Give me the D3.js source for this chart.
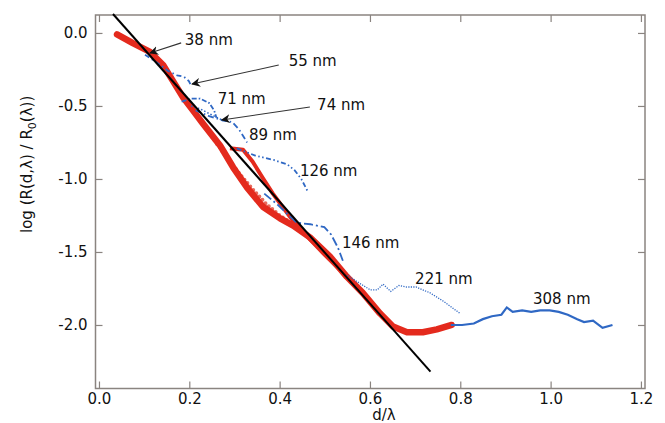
<!DOCTYPE html>
<html>
<head>
<meta charset="utf-8">
<script src="https://cdn.jsdelivr.net/npm/d3@7"></script>
<style>
  body { margin: 0; background: #fff; }
  text { font-family: "DejaVu Sans", sans-serif; fill: #111; }
</style>
</head>
<body>
<div id="chart"></div>
<script>
//----------------------------DATA-------------------------------//
const xTicks = [0.0, 0.2, 0.4, 0.6, 0.8, 1.0, 1.2];
const yTicks = [0.0, -0.5, -1.0, -1.5, -2.0];

// fitted straight line (two end points)
const fitLine = [[0.031, 0.13], [0.734, -2.32]];

// red thick band (thin films)
const redMain = [[0.04,-0.01],[0.075,-0.07],[0.113,-0.13],[0.142,-0.22],[0.164,-0.33],[0.186,-0.44],
  [0.208,-0.53],[0.23,-0.62],[0.268,-0.77],[0.297,-0.92],[0.328,-1.06],[0.363,-1.19],[0.401,-1.27],
  [0.43,-1.32],[0.467,-1.4],[0.511,-1.53],[0.549,-1.67],[0.584,-1.78],[0.622,-1.92],[0.651,-2.01],
  [0.682,-2.05],[0.717,-2.05],[0.748,-2.03],[0.781,-2.0]];
const redShoulder = [[0.29,-0.79],[0.319,-0.80],[0.34,-0.88],[0.362,-0.99],[0.385,-1.10],
  [0.423,-1.26],[0.46,-1.39],[0.5,-1.52],[0.549,-1.67]];
const redDots = [[0.25,-0.71],[0.28,-0.84],[0.31,-0.96],[0.34,-1.07],[0.37,-1.17],[0.40,-1.25],
  [0.43,-1.31],[0.46,-1.38],[0.49,-1.46],[0.52,-1.56],[0.549,-1.66]];

// blue curves (thicker films)
const blue55 = [[0.102,-0.15],[0.132,-0.21],[0.153,-0.26],[0.173,-0.29],[0.188,-0.30],[0.199,-0.33],[0.204,-0.36]];
const blue71 = [[0.183,-0.47],[0.204,-0.45],[0.224,-0.45],[0.244,-0.48],[0.255,-0.53],[0.26,-0.58]];
const blue74 = [[0.204,-0.5],[0.224,-0.52],[0.249,-0.56],[0.275,-0.6]];
const blue89 = [[0.214,-0.53],[0.244,-0.57],[0.275,-0.6],[0.295,-0.61],[0.31,-0.66],[0.328,-0.75]];
const blue126 = [[0.305,-0.79],[0.346,-0.84],[0.387,-0.87],[0.417,-0.9],[0.433,-0.94],[0.448,-1.0],[0.463,-1.09]];
const blue146 = [[0.366,-1.1],[0.397,-1.18],[0.417,-1.24],[0.438,-1.3],[0.468,-1.31],[0.499,-1.33],
  [0.514,-1.38],[0.529,-1.47],[0.54,-1.56]];
const blue221 = [[0.55,-1.66],[0.58,-1.72],[0.601,-1.76],[0.616,-1.76],[0.629,-1.72],[0.646,-1.77],
  [0.664,-1.73],[0.682,-1.74],[0.702,-1.74],[0.733,-1.78],[0.764,-1.84],[0.799,-1.92]];
const blue308 = [[0.779,-2.0],[0.804,-2.0],[0.83,-1.99],[0.85,-1.96],[0.87,-1.94],[0.891,-1.93],
  [0.903,-1.88],[0.916,-1.91],[0.937,-1.9],[0.957,-1.91],[0.977,-1.9],[0.998,-1.9],[1.018,-1.91],
  [1.038,-1.93],[1.059,-1.96],[1.074,-1.98],[1.094,-1.97],[1.115,-2.02],[1.137,-2.0]];

// thickness labels: text, anchor (data coords), optional arrow [from, to]
const labels = [
  { t: "38 nm",  x: 0.19,  y: -0.048, arrow: [[0.182,-0.068],[0.113,-0.137]] },
  { t: "55 nm",  x: 0.42,  y: -0.19,  arrow: [[0.398,-0.22],[0.206,-0.35]] },
  { t: "71 nm",  x: 0.263, y: -0.45 },
  { t: "74 nm",  x: 0.483, y: -0.49,  arrow: [[0.467,-0.507],[0.272,-0.596]] },
  { t: "89 nm",  x: 0.332, y: -0.70 },
  { t: "126 nm", x: 0.445, y: -0.945 },
  { t: "146 nm", x: 0.538, y: -1.438 },
  { t: "221 nm", x: 0.70,  y: -1.685 },
  { t: "308 nm", x: 0.961, y: -1.822 }
];

//-----------------------------SVG-------------------------------//
const W = 665, H = 423;
const margin = { top: 15, right: 20, bottom: 34.5, left: 95.5 };
const width = W - margin.left - margin.right;
const height = H - margin.top - margin.bottom;

const svg = d3.select("#chart").append("svg")
  .attr("width", W).attr("height", H);
const g = svg.append("g")
  .attr("transform", `translate(${margin.left},${margin.top})`);

//----------------------------SCALES-----------------------------//
const x = d3.scaleLinear().domain([-0.0077, 1.209]).range([0, width]);
const y = d3.scaleLinear().domain([0.123, -2.435]).range([0, height]);

//-----------------------------AXES------------------------------//
const axisColor = "#8a8480";
function styleAxis(sel, hideText) {
  sel.select(".domain").remove();
  sel.selectAll(".tick line").attr("stroke", axisColor).attr("stroke-width", 1.2);
  sel.selectAll(".tick text").style("font-size", "15px").attr("fill", "#111");
  if (hideText) sel.selectAll(".tick text").remove();
}
g.append("g").attr("transform", `translate(0,${height})`)
  .call(d3.axisBottom(x).tickValues(xTicks).tickFormat(d3.format(".1f")).tickSize(-7).tickPadding(5))
  .call(s => styleAxis(s, false));
g.append("g")
  .call(d3.axisTop(x).tickValues(xTicks).tickSize(-7))
  .call(s => styleAxis(s, true));
g.append("g")
  .call(d3.axisLeft(y).tickValues(yTicks).tickFormat(d3.format(".1f")).tickSize(-7).tickPadding(8))
  .call(s => styleAxis(s, false));
g.append("g").attr("transform", `translate(${width},0)`)
  .call(d3.axisRight(y).tickValues(yTicks).tickSize(-7))
  .call(s => styleAxis(s, true));

g.append("rect")
  .attr("width", width).attr("height", height)
  .attr("fill", "none").attr("stroke", axisColor).attr("stroke-width", 1.5);

// minus sign as hyphen like the original
g.selectAll(".tick text").text(function () { return d3.select(this).text().replace("−", "-"); });

svg.append("text")
  .attr("x", margin.left + x(0.6) + 14).attr("y", 420)
  .attr("text-anchor", "middle").style("font-size", "15px")
  .text("d/λ");

const yl = svg.append("text")
  .attr("transform", `translate(32,${margin.top + y(-0.9)}) rotate(-90)`)
  .attr("text-anchor", "middle").style("font-size", "15px");
yl.append("tspan").text("log (R(d,λ) / R");
yl.append("tspan").attr("dy", 4).style("font-size", "11px").text("0");
yl.append("tspan").attr("dy", -4).text("(λ))");

//----------------------------LINES------------------------------//
const line = d3.line().x(d => x(d[0])).y(d => y(d[1]));
const plot = g.append("g");
const red = "#e42a1d", blue = "#2f68c4";

plot.append("path").attr("d", line(redDots))
  .attr("fill", "none").attr("stroke", "#e86a5c").attr("stroke-width", 4)
  .attr("stroke-linecap", "round").attr("stroke-dasharray", "0 4.5");
plot.append("path").attr("d", line(redShoulder))
  .attr("fill", "none").attr("stroke", red).attr("stroke-width", 4)
  .attr("stroke-linejoin", "round");
plot.append("path").attr("d", line(redMain))
  .attr("fill", "none").attr("stroke", red).attr("stroke-width", 6.5)
  .attr("stroke-linecap", "round").attr("stroke-linejoin", "round");

const blues = [
  { d: blue55,  dash: "5 3 1.5 3", w: 1.8 },
  { d: blue71,  dash: "5 2 1.5 2", w: 1.8 },
  { d: blue74,  dash: "1.5 2",     w: 1.5 },
  { d: blue89,  dash: "6 3 1.5 3", w: 1.8 },
  { d: blue126, dash: "5 2.5 1.5 2.5 1.5 2.5", w: 1.8 },
  { d: blue146, dash: "9 3 2 3",   w: 1.8 },
  { d: blue221, dash: "1.2 1.3",   w: 1.3 },
  { d: blue308, dash: null,        w: 2.2 }
];
blues.forEach(b => {
  plot.append("path").attr("d", line(b.d))
    .attr("fill", "none").attr("stroke", blue).attr("stroke-width", b.w)
    .attr("stroke-dasharray", b.dash);
});

plot.append("path").attr("d", line(fitLine))
  .attr("fill", "none").attr("stroke", "#000").attr("stroke-width", 2);

//--------------------------ANNOTATIONS--------------------------//
svg.append("defs").append("marker")
  .attr("id", "arr").attr("viewBox", "0 0 10 10")
  .attr("refX", 9).attr("refY", 5)
  .attr("markerWidth", 9).attr("markerHeight", 9)
  .attr("markerUnits", "userSpaceOnUse")
  .attr("orient", "auto")
  .append("path").attr("d", "M0,0 L10,5 L0,10 L3,5 Z").attr("fill", "#111");

labels.forEach(l => {
  if (l.arrow) {
    g.append("line")
      .attr("x1", x(l.arrow[0][0])).attr("y1", y(l.arrow[0][1]))
      .attr("x2", x(l.arrow[1][0])).attr("y2", y(l.arrow[1][1]))
      .attr("stroke", "#333").attr("stroke-width", 1.1)
      .attr("marker-end", "url(#arr)");
  }
  g.append("text")
    .attr("x", x(l.x)).attr("y", y(l.y))
    .attr("dy", "0.35em").style("font-size", "15px")
    .text(l.t);
});
</script>
</body>
</html>
